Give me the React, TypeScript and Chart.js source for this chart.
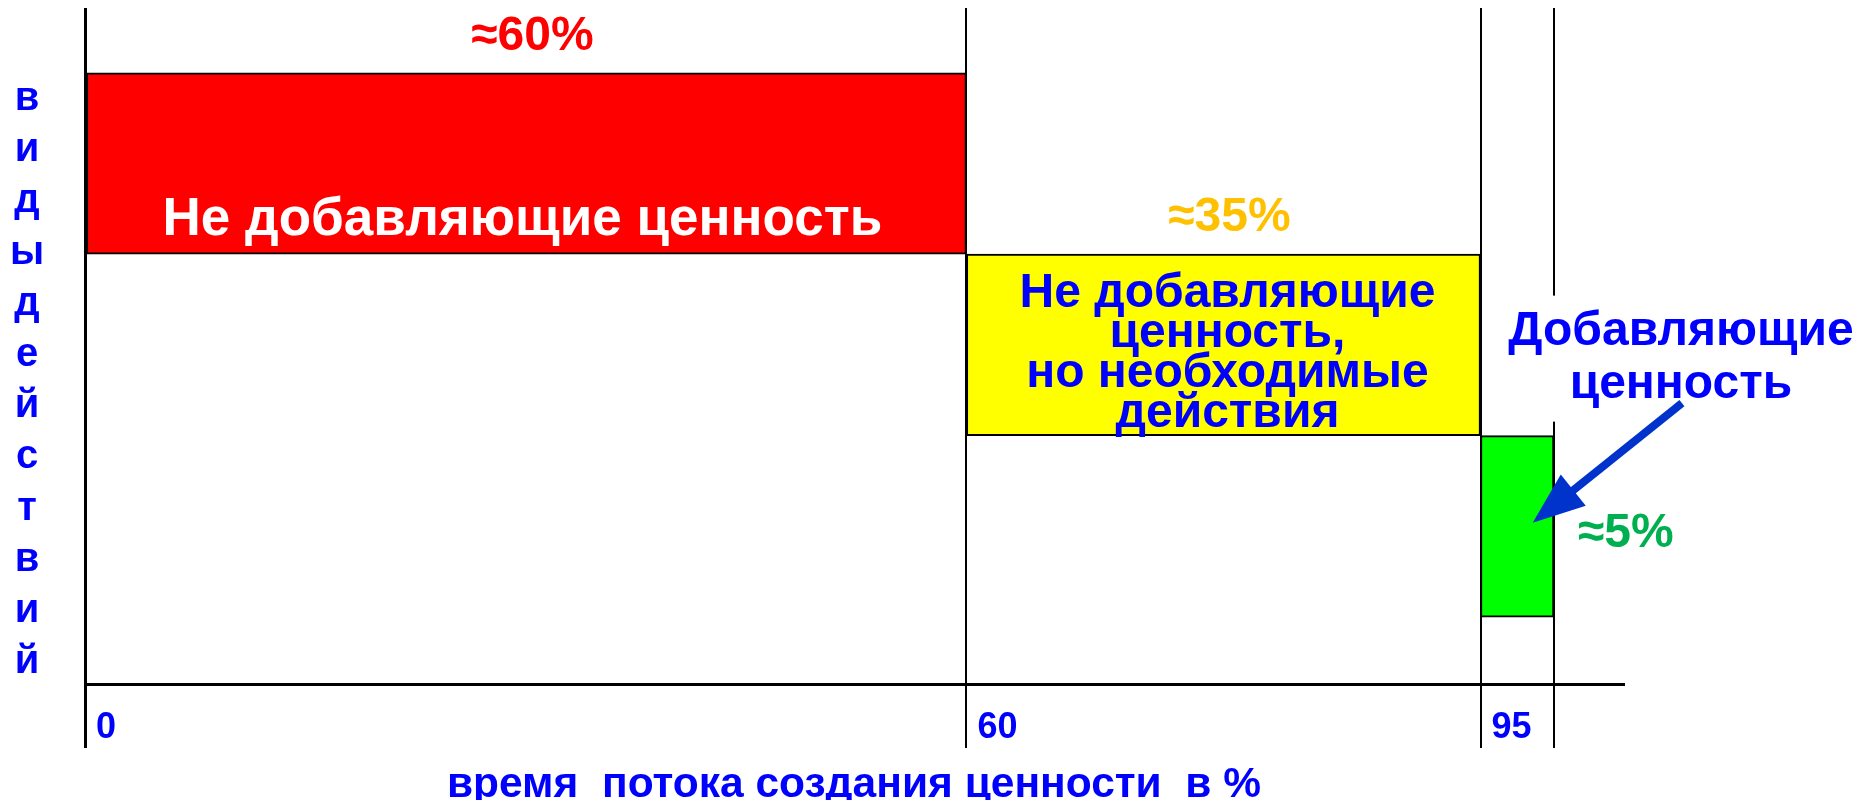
import React, { useEffect, useRef } from 'react';
import { Chart, registerables } from 'chart.js';

Chart.register(...registerables);

// ---- data ----
const segmentNames = [
  'Не добавляющие ценность',
  'Не добавляющие ценность, но необходимые действия',
  'Добавляющие ценность',
];
const segmentStart = [0, 60, 95];
const segmentEnd = [60, 95, 100];
const segmentLevel = [3, 2, 1];
const segmentColors = ['#FF0000', '#FFFF00', '#00FF00'];
const shareLabels = ['≈60%', '≈35%', '≈5%'];
const shareColors = ['#FF0000', '#FFC000', '#00B050'];
const barTextLines = [
  ['Не добавляющие ценность'],
  ['Не добавляющие', 'ценность,', 'но необходимые', 'действия'],
  ['Добавляющие', 'ценность'],
];
const barTextColors = ['#FFFFFF', '#0000FF', '#0000FF'];
const tickValues = [0, 60, 95, 100];
const tickLabels = ['0', '60', '95', ''];
const xTitle = 'время  потока создания ценности  в %';
const yTitle = 'виды действий';

const FAMILY = '"Liberation Sans", Arial, Helvetica, sans-serif';
const font = (s: number) => `bold ${s}px ${FAMILY}`;

const annotPlugin = {
  id: 'annot',
  afterDraw(chart: any) {
    const ctx: CanvasRenderingContext2D = chart.ctx;
    const ca = chart.chartArea;
    const meta = chart.getDatasetMeta(0);
    const bars = meta.data.map((el: any) => {
      const p = el.getProps(['x', 'y', 'base', 'height'], true);
      return {
        left: Math.min(p.x, p.base),
        right: Math.max(p.x, p.base),
        top: p.y - p.height / 2,
        bottom: p.y + p.height / 2,
        cx: (p.x + p.base) / 2,
        cy: p.y,
      };
    });
    ctx.save();

    // vertical stacked y title
    const letters = Array.from(yTitle).filter((c) => c !== ' ');
    ctx.font = font(40);
    ctx.fillStyle = '#0000FF';
    ctx.textAlign = 'center';
    ctx.textBaseline = 'alphabetic';
    letters.forEach((c, i) => ctx.fillText(c, ca.left - 58, ca.top + 102 + i * 51.2));

    // share labels
    ctx.font = font(48);
    bars.forEach((b: any, i: number) => {
      ctx.fillStyle = shareColors[i];
      if (i < 2) {
        ctx.textAlign = 'center';
        ctx.fillText(shareLabels[i], b.cx + 6, b.top - 23);
      } else {
        ctx.textAlign = 'left';
        ctx.fillText(shareLabels[i], b.right + 24, b.cy + 21);
      }
    });

    // red bar text
    {
      const b = bars[0];
      ctx.font = font(53);
      ctx.fillStyle = barTextColors[0];
      ctx.textAlign = 'center';
      ctx.fillText(barTextLines[0][0], b.cx - 4, b.bottom - 19);
    }
    // yellow bar text
    {
      const b = bars[1];
      ctx.font = font(48);
      ctx.fillStyle = barTextColors[1];
      ctx.textAlign = 'center';
      barTextLines[1].forEach((t, i) => ctx.fillText(t, b.cx + 4, b.top + 53 + i * 40));
    }
    // green bar text (outside, with white backing) + arrow
    {
      const b = bars[2];
      const x = b.right + 127;
      ctx.fillStyle = '#FFFFFF';
      ctx.fillRect(b.right - 50, b.top - 140, 370, 126);
      ctx.font = font(48);
      ctx.fillStyle = barTextColors[2];
      ctx.textAlign = 'center';
      barTextLines[2].forEach((t, i) => ctx.fillText(t, x, b.top - 91 + i * 53));

      const sx = b.right + 128, sy = b.top - 32.4;
      const tx = b.right - 21.3, ty = b.top + 87;
      const ang = Math.atan2(ty - sy, tx - sx);
      const headLen = 52, headHalf = 20;
      const bx = tx - headLen * Math.cos(ang), by = ty - headLen * Math.sin(ang);
      ctx.strokeStyle = '#0033CC';
      ctx.fillStyle = '#0033CC';
      ctx.lineWidth = 8;
      ctx.beginPath();
      ctx.moveTo(sx, sy);
      ctx.lineTo(bx + 5 * Math.cos(ang), by + 5 * Math.sin(ang));
      ctx.stroke();
      ctx.beginPath();
      ctx.moveTo(tx, ty);
      ctx.lineTo(bx + headHalf * Math.sin(ang), by - headHalf * Math.cos(ang));
      ctx.lineTo(bx - headHalf * Math.sin(ang), by + headHalf * Math.cos(ang));
      ctx.closePath();
      ctx.fill();
    }
    ctx.restore();
  },
};

export default function App() {
  const ref = useRef<HTMLCanvasElement | null>(null);
  useEffect(() => {
    if (!ref.current) return;
    const chart = new Chart(ref.current, {
      type: 'bar',
      data: {
        labels: segmentNames,
        datasets: [
          {
            data: segmentStart.map((s, i) => ({ x: [s, segmentEnd[i]], y: segmentLevel[i] })) as any,
            backgroundColor: segmentColors,
            borderColor: '#000000',
            borderWidth: 2,
            borderSkipped: false,
            categoryPercentage: 1,
            barPercentage: 1,
          },
        ],
      },
      options: {
        indexAxis: 'y',
        animation: false,
        responsive: false,
        events: [],
        layout: { padding: { left: 77, right: 231, top: 0, bottom: 0 } },
        plugins: {
          legend: { display: false },
          tooltip: { enabled: false },
          title: { display: false },
        },
        scales: {
          x: {
            type: 'linear',
            position: 'bottom',
            bounds: 'data',
            offset: false,
            min: 0,
            max: 104.7,
            afterBuildTicks: (s: any) => {
              s.ticks = tickValues.map((v) => ({ value: v }));
            },
            grid: {
              color: '#000000',
              lineWidth: (c: any) => (c.index === 0 ? 3 : 2),
              tickLength: 64,
              drawTicks: true,
              offset: false,
            },
            border: { display: true, color: '#000000', width: 3 },
            ticks: {
              autoSkip: false,
              maxRotation: 0,
              minRotation: 0,
              align: 'start',
              labelOffset: 11,
              padding: -42,
              color: '#0000FF',
              font: { family: FAMILY, size: 36, weight: 'bold' },
              callback: (_v: any, i: number) => tickLabels[i],
            },
            title: {
              display: true,
              text: xTitle,
              color: '#0000FF',
              font: { family: FAMILY, size: 42.5, weight: 'bold', lineHeight: 0.6 },
              padding: { top: 65.3, bottom: 10 },
            },
          },
          y: {
            type: 'linear',
            display: false,
            bounds: 'data',
            offset: false,
            grid: { offset: false },
            min: 0.131,
            max: 3.857,
            afterBuildTicks: (s: any) => {
              s.ticks = [...segmentLevel].sort((a, b) => a - b).map((v) => ({ value: v }));
            },
          },
        },
      } as any,
      plugins: [annotPlugin],
    });
    return () => chart.destroy();
  }, []);
  return (
    <div style={{ width: 1846, height: 800, marginBottom: -8 }}>
      <canvas ref={ref} width={1846} height={800} style={{ display: 'block' }} />
    </div>
  );
}
